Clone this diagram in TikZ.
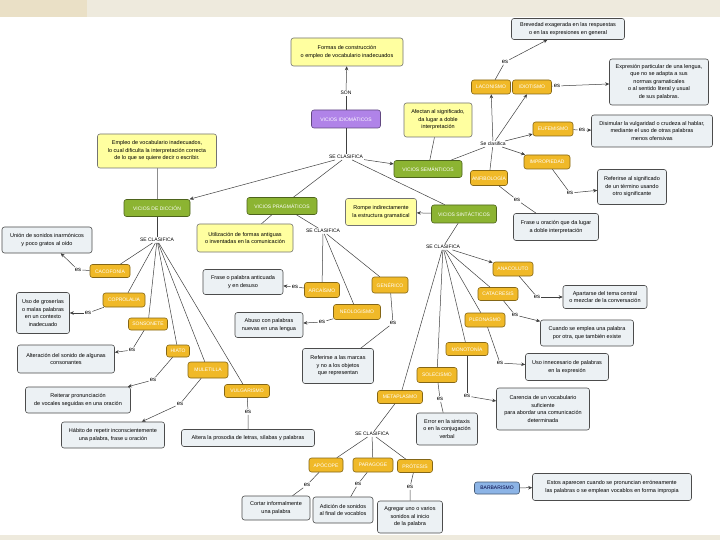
\documentclass[tikz,border=0pt]{standalone}
\usepackage{fontspec}
\setmainfont{Liberation Sans}
\usetikzlibrary{arrows.meta}
\definecolor{bandA}{HTML}{EAE0C6}
\definecolor{bandB}{HTML}{EEEADD}
\definecolor{defyel}{HTML}{FFFFA0}
\definecolor{defgry}{HTML}{ECF1F4}
\definecolor{catgrn}{HTML}{8CB432}
\definecolor{subora}{HTML}{F0B928}
\definecolor{topprp}{HTML}{B083E8}
\definecolor{barblu}{HTML}{8CB4E6}
\tikzset{
  base/.style  = {draw, rounded corners=2.5pt, align=center, inner sep=1pt, line width=0.6pt},
  ydef/.style  = {base, draw=black!55, fill=defyel, font=\fontsize{5.5}{7.5}\selectfont},
  gdef/.style  = {base, draw=black!70, fill=defgry, font=\fontsize{5.5}{7.5}\selectfont},
  cat/.style   = {base, draw=catgrn!55!black, fill=catgrn, text=white,
                  font=\fontsize{5}{6}\selectfont, minimum height=17pt},
  sub/.style   = {base, draw=subora!55!black, fill=subora, text=white,
                  font=\fontsize{5}{6}\selectfont, minimum height=14pt},
  topc/.style  = {base, draw=topprp!55!black, fill=topprp, text=white,
                  font=\fontsize{5}{6}\selectfont},
  barbc/.style = {base, draw=barblu!50!black, fill=barblu, text=blue!25!black,
                  font=\fontsize{5}{6}\selectfont},
  link/.style  = {font=\fontsize{5}{6}\selectfont, inner sep=1pt, fill=white},
  esl/.style   = {font=\fontsize{6}{7}\selectfont, inner sep=1pt, fill=white},
  ln/.style    = {black!75, line width=0.5pt},
  arr/.style   = {ln, -{Stealth[length=4pt, width=3.5pt]}},
}

\begin{document}
\begin{tikzpicture}[x=1pt, y=-1pt]
  \useasboundingbox (0,0) rectangle (720,540);
  \fill[white] (0,0) rectangle (720,540);
  \fill[bandB] (0,0) rectangle (720,17);
  \fill[bandA] (0,0) rectangle (87,17);
  \fill[bandB] (0,535) rectangle (720,540);

  % raiz
  \node[ydef, minimum width=112pt, minimum height=28pt] (idiomDef) at (347,52)
    {Formas de construcción\\o empleo de vocabulario inadecuados};
  \node[link] (son) at (346,93) {SON};
  \node[topc, minimum width=69pt, minimum height=18pt] (idiom) at (346,119) {VICIOS IDIOMÁTICOS};
  \node[link] (clasA) at (346,157) {SE CLASIFICA};

  % cuatro grupos
  \node[cat, minimum width=66pt] (diccion) at (157,208) {VICIOS DE DICCIÓN};
  \node[ydef, minimum width=119pt, minimum height=34pt] (diccionDef) at (157,151)
    {Empleo de vocabulario inadecuados,\\lo cual dificulta la interpretación correcta\\de lo que se quiere decir o escribir.};
  \node[cat, minimum width=70pt] (pragm) at (282,206) {VICIOS PRAGMÁTICOS};
  \node[ydef, minimum width=96pt, minimum height=28pt] (pragmDef) at (245,238)
    {Utilización de formas antiguas\\o inventadas en la comunicación};
  \node[cat, minimum width=65pt, minimum height=18pt] (sint) at (464,214) {VICIOS SINTÁCTICOS};
  \node[ydef, minimum width=71pt, minimum height=27pt] (sintDef) at (381,212)
    {Rompe indirectamente\\la estructura gramatical};
  \node[cat, minimum width=68pt] (sem) at (428,169) {VICIOS SEMÁNTICOS};
  \node[ydef, minimum width=68pt, minimum height=34pt] (semDef) at (438,120)
    {Afectan al significado,\\da lugar a doble\\interpretación};

  % semanticos
  \node[link] (clasSem) at (493,144) {Se clasifica};
  \node[sub, minimum width=39pt] (lacon) at (491,87) {LACONISMO};
  \node[sub, minimum width=39pt] (idiot) at (532,87) {IDIOTISMO};
  \node[sub, minimum width=40pt] (eufem) at (553,129) {EUFEMISMO};
  \node[sub, minimum width=46pt] (impro) at (547,162) {IMPROPIEDAD};
  \node[sub, minimum width=37pt, minimum height=15pt] (anfib) at (489,178) {ANFIBOLOGÍA};
  \node[gdef, minimum width=113pt, minimum height=21pt] (laconDef) at (568,29)
    {Brevedad exagerada en las respuestas\\o en las expresiones en general};
  \node[gdef, minimum width=99pt, minimum height=46pt] (idiotDef) at (659,82)
    {Expresión particular de una lengua,\\que no se adapta a sus\\normas gramaticales\\o al sentido literal y usual\\de sus palabras.};
  \node[gdef, minimum width=121pt, minimum height=32pt] (eufemDef) at (652,131)
    {Disimular la vulgaridad o crudeza al hablar,\\mediante el uso de otras palabras\\menos ofensivas};
  \node[gdef, minimum width=69pt, minimum height=35pt] (improDef) at (632,187)
    {Referirse al significado\\de un término usando\\otro significante};
  \node[gdef, minimum width=85pt, minimum height=27pt] (anfibDef) at (556,227)
    {Frase u oración que da lugar\\a doble interpretación};
  \node[esl] (esLacon) at (505,62) {es};
  \node[esl] (esIdiot) at (557,86) {es};
  \node[esl] (esEufem) at (582,130) {es};
  \node[esl] (esImpro) at (570,193) {es};
  \node[esl] (esAnfib) at (517,200) {es};

  % sintacticos
  \node[link] (clasS) at (443,247) {SE CLASIFICA};
  \node[sub, minimum width=40pt] (anaco) at (513,269) {ANACOLUTO};
  \node[sub, minimum width=40pt, minimum height=13pt] (catac) at (498,294) {CATACRESIS};
  \node[sub, minimum width=40pt] (pleon) at (485,320) {PLEONASMO};
  \node[sub, minimum width=42pt, minimum height=13pt] (monot) at (467,349) {MONOTONÍA};
  \node[sub, minimum width=40pt, minimum height=15pt] (solec) at (437,375) {SOLECISMO};
  \node[sub, minimum width=45pt, minimum height=13pt] (metap) at (400,397) {METAPLASMO};
  \node[gdef, minimum width=84pt, minimum height=23pt] (anacoDef) at (605,297)
    {Apartarse del tema central\\o mezclar de la conversación};
  \node[gdef, minimum width=93pt, minimum height=26pt] (catacDef) at (587,333)
    {Cuando se emplea una palabra\\por otra, que también existe};
  \node[gdef, minimum width=83pt, minimum height=27pt] (pleonDef) at (567,367)
    {Uso innecesario de palabras\\en la expresión};
  \node[gdef, minimum width=93pt, minimum height=42pt] (monotDef) at (543,409)
    {Carencia de un vocabulario\\suficiente\\para abordar una comunicación\\determinada};
  \node[gdef, minimum width=61pt, minimum height=32pt] (solecDef) at (447,429)
    {Error en la sintaxis\\o en la conjugación\\verbal};
  \node[esl] (esAnaco) at (537,297) {es};
  \node[esl] (esCatac) at (515,315) {es};
  \node[esl] (esPleon) at (500,363) {es};
  \node[esl] (esMonot) at (467,396) {es};
  \node[esl] (esSolec) at (440,399) {es};

  % metaplasmo
  \node[link] (clasM) at (372,434) {SE CLASIFICA};
  \node[sub, minimum width=34pt] (apoco) at (326,465) {APÓCOPE};
  \node[sub, minimum width=40pt] (parag) at (373,465) {PARAGOGE};
  \node[sub, minimum width=35pt, minimum height=13pt] (protes) at (415,466) {PRÓTESIS};
  \node[gdef, minimum width=68pt, minimum height=24pt] (apocoDef) at (276,508)
    {Cortar informalmente\\una palabra};
  \node[gdef, minimum width=60pt, minimum height=26pt] (paragDef) at (343,510)
    {Adición de sonidos\\al final de vocablos};
  \node[gdef, minimum width=65pt, minimum height=32pt] (protesDef) at (410,517)
    {Agregar uno o varios\\sonidos al inicio\\de la palabra};
  \node[esl] (esApoco) at (307,485) {es};
  \node[esl] (esParag) at (358,484) {es};
  \node[esl] (esProtes) at (410,487) {es};

  % barbarismo
  \node[barbc, minimum width=45pt, minimum height=12pt] (barb) at (497,488) {BARBARISMO};
  \node[gdef, minimum width=159pt, minimum height=27pt] (barbDef) at (612,487)
    {Estos aparecen cuando se pronuncian erróneamente\\las palabras o se emplean vocablos en forma impropia};

  % diccion
  \node[link] (clasD) at (157,240) {SE CLASIFICA};
  \node[sub, minimum width=40pt, minimum height=13pt] (cacof) at (110,271) {CACOFONÍA};
  \node[sub, minimum width=42pt] (copro) at (124,300) {COPROLALIA};
  \node[sub, minimum width=39pt, minimum height=12pt] (sonso) at (148,324) {SONSONETE};
  \node[sub, minimum width=23pt, minimum height=12pt] (hiato) at (178,351) {HIATO};
  \node[sub, minimum width=40pt, minimum height=16pt] (mulet) at (208,370) {MULETILLA};
  \node[sub, minimum width=45pt, minimum height=13pt] (vulga) at (247,391) {VULGARISMO};
  \node[gdef, minimum width=90pt, minimum height=26pt] (cacofDef) at (47,240)
    {Unión de sonidos inarmónicos\\y poco gratos al oído};
  \node[gdef, minimum width=53pt, minimum height=41pt] (coproDef) at (43,313)
    {Uso de groserías\\o malas palabras\\en un contexto\\inadecuado};
  \node[gdef, minimum width=97pt, minimum height=28pt] (sonsoDef) at (66,359)
    {Alteración del sonido de algunas\\consonantes};
  \node[gdef, minimum width=105pt, minimum height=26pt] (hiatoDef) at (78,400)
    {Reiterar pronunciación\\de vocales seguidas en una oración};
  \node[gdef, minimum width=103pt, minimum height=26pt] (muletDef) at (113,435)
    {Hábito de repetir inconscientemente\\una palabra, frase u oración};
  \node[gdef, minimum width=133pt, minimum height=17pt] (vulgaDef) at (248,438)
    {Altera la prosodia de letras, sílabas y palabras};
  \node[esl] (esCacof) at (78,270) {es};
  \node[esl] (esCopro) at (88,313) {es};
  \node[esl] (esSonso) at (132,350) {es};
  \node[esl] (esHiato) at (153,380) {es};
  \node[esl] (esMulet) at (180,404) {es};
  \node[esl] (esVulga) at (248,412) {es};

  % pragmaticos
  \node[link] (clasP) at (323,231) {SE CLASIFICA};
  \node[sub, minimum width=35pt, minimum height=15pt] (arcai) at (322,290) {ARCAÍSMO};
  \node[sub, minimum width=47pt, minimum height=15pt] (neolo) at (357,312) {NEOLOGISMO};
  \node[sub, minimum width=36pt, minimum height=16pt] (gener) at (390,285) {GENÉRICO};
  \node[gdef, minimum width=80pt, minimum height=25pt] (arcaiDef) at (243,282)
    {Frase o palabra anticuada\\y en desuso};
  \node[gdef, minimum width=68pt, minimum height=25pt] (neoloDef) at (269,325)
    {Abuso con palabras\\nuevas en una lengua};
  \node[gdef, minimum width=71pt, minimum height=35pt] (generDef) at (338,366)
    {Referirse a las marcas\\y no a los objetos\\que representan};
  \node[esl] (esArcai) at (295,287) {es};
  \node[esl] (esNeolo) at (322,322) {es};
  \node[esl] (esGener) at (393,323) {es};

  % conexiones
  \draw[ln] (idiom) -- (son);
  \draw[arr] (son) -- (idiomDef);
  \draw[ln] (idiom) -- (clasA);
  \draw[arr] (clasA) -- (diccion);
  \draw[ln] (clasA) -- (pragm);
  \draw[ln] (clasA) -- (sint);
  \draw[arr] (clasA) -- (sem);
  \draw[ln, black!45] (diccionDef) -- (diccion);
  \draw[ln] (pragm) -- (pragmDef);
  \draw[arr] (sint) -- (sintDef);
  \draw[ln] (semDef) -- (sem);

  \draw[ln] (sem) -- (clasSem);
  \foreach \n in {lacon, idiot, eufem, impro}
    \draw[arr] (clasSem) -- (\n);
  \draw[ln] (anfib) -- (clasSem);

  \draw[ln] (sint) -- (clasS);
  \draw[arr] (clasS) -- (anaco);
  \foreach \n in {catac, pleon, monot, solec, metap}
    \draw[ln] (clasS) -- (\n);
  \draw[ln] (metap) -- (clasM);
  \foreach \n in {apoco, parag, protes}
    \draw[ln] (clasM) -- (\n);
  \draw[arr] (barb) -- (barbDef);

  \draw[ln] (diccion) -- (clasD);
  \foreach \n in {cacof, copro, sonso, hiato, mulet, vulga}
    \draw[ln] (clasD) -- (\n);

  \draw[ln] (pragm) -- (clasP);
  \foreach \n in {arcai, neolo, gener}
    \draw[ln] (clasP) -- (\n);

  % "es" -> definicion
  \foreach \s/\e in {lacon/Lacon, idiot/Idiot, eufem/Eufem, impro/Impro,
                     anaco/Anaco, catac/Catac, pleon/Pleon, monot/Monot,
                     cacof/Cacof, copro/Copro, sonso/Sonso, hiato/Hiato, mulet/Mulet,
                     arcai/Arcai, neolo/Neolo}
    \draw[ln] (\s) -- (es\e) (es\e) edge[arr] (\s Def);
  \foreach \s/\e in {anfib/Anfib, solec/Solec, apoco/Apoco, parag/Parag,
                     protes/Protes, vulga/Vulga, gener/Gener}
    \draw[ln] (\s) -- (es\e) -- (\s Def);
\end{tikzpicture}
\end{document}
